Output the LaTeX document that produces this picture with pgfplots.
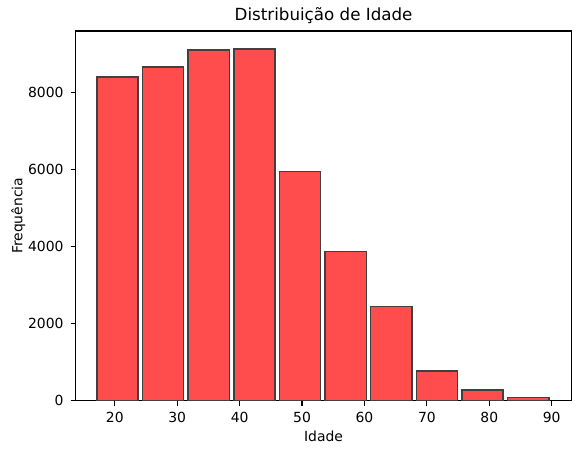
\documentclass[border=0pt]{standalone}
\usepackage{fontspec}
\setmainfont{DejaVu Sans}
\usepackage{pgfplots}
\pgfplotsset{compat=1.18}
\usetikzlibrary{calc}
\definecolor{barfill}{HTML}{FF4D4D}
\definecolor{baredge}{HTML}{404040}
\begin{document}
\begin{tikzpicture}
\begin{axis}[
  name=ax,
  scale only axis,
  width=356.8pt, height=265.7pt,
  xmin=13.69, xmax=93.2,
  ymin=0, ymax=9607,
  axis line style={black, line width=0.8pt},
  tick align=outside,
  xtick pos=left, ytick pos=left,
  major tick length=3.5pt,
  every tick/.style={black, line width=0.8pt},
  xtick={20,30,40,50,60,70,80,90},
  ytick={0,2000,4000,6000,8000},
  /pgf/number format/assume math mode=true,
  /pgf/number format/1000 sep={},
  tick label style={font=\fontsize{10}{12}\selectfont},
  xticklabel style={yshift=-1.5pt},
  yticklabel style={xshift=-1.5pt},
  xlabel={Idade},
  ylabel={Frequência},
  every axis x label/.style={at={(axis description cs:0.5,0)}, anchor=center, yshift=-25.9pt, font=\fontsize{10}{12}\selectfont},
  every axis y label/.style={at={(axis description cs:0,0.5)}, anchor=center, rotate=90, yshift=41pt, font=\fontsize{10}{12}\selectfont},
  title={Distribuição de Idade},
  every axis title/.style={at={(axis description cs:0.5,1)}, anchor=center, yshift=10.8pt, font=\fontsize{12}{14}\selectfont},
  ybar, bar width=6.58, bar shift=0pt,
]
\addplot[fill=barfill, draw=baredge, line width=1pt] coordinates {
  (20.43,8416) (27.74,8676) (35.05,9118) (42.36,9144) (49.68,5962)
  (56.99,3874) (64.30,2452) (71.61,772) (78.93,278) (86.24,86)
};
\end{axis}
\pgfresetboundingbox
\path[use as bounding box] ($(ax.south west)+(-54.2pt,-36pt)$) rectangle ($(ax.north east)+(3.8pt,22.3pt)$);
\end{tikzpicture}
\end{document}
